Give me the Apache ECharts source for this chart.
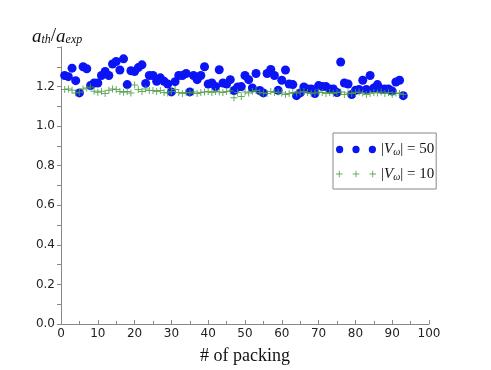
<!DOCTYPE html>
<html>
<head>
<meta charset="utf-8">
<script src="https://cdn.jsdelivr.net/npm/echarts@6/dist/echarts.min.js"></script>
<style>
  html, body { margin: 0; padding: 0; background: #fff; }
  #chart { width: 491px; height: 370px; }
</style>
</head>
<body>
<div id="chart"></div>
<script>
// packing index
const packing = [
  1, 2, 3, 4, 5, 6, 7, 8, 9, 10, 11, 12, 13, 14, 15, 16, 17, 18, 19, 20,
  21, 22, 23, 24, 25, 26, 27, 28, 29, 30, 31, 32, 33, 34, 35, 36, 37, 38, 39, 40,
  41, 42, 43, 44, 45, 46, 47, 48, 49, 50, 51, 52, 53, 54, 55, 56, 57, 58, 59, 60,
  61, 62, 63, 64, 65, 66, 67, 68, 69, 70, 71, 72, 73, 74, 75, 76, 77, 78, 79, 80,
  81, 82, 83, 84, 85, 86, 87, 88, 89, 90, 91, 92, 93
]

// |V_w| = 50
const ratio50 = [
  1.256, 1.25, 1.293, 1.23, 1.168, 1.30, 1.29, 1.205, 1.218, 1.218,
  1.256, 1.276, 1.256, 1.314, 1.327, 1.284, 1.34, 1.21, 1.28, 1.276,
  1.296, 1.31, 1.216, 1.256, 1.256, 1.227, 1.244, 1.227, 1.213, 1.173,
  1.225, 1.256, 1.256, 1.266, 1.173, 1.256, 1.235, 1.256, 1.30, 1.213,
  1.218, 1.20, 1.285, 1.218, 1.213, 1.235, 1.18, 1.198, 1.20, 1.256,
  1.235, 1.193, 1.266, 1.18, 1.168, 1.266, 1.286, 1.256, 1.181, 1.232,
  1.284, 1.213, 1.21, 1.154, 1.168, 1.198, 1.188, 1.188, 1.165, 1.205,
  1.20, 1.20, 1.188, 1.188, 1.17, 1.324, 1.218, 1.213, 1.16, 1.181,
  1.185, 1.232, 1.185, 1.256, 1.193, 1.21, 1.188, 1.188, 1.188, 1.177,
  1.223, 1.232, 1.154
]

// |V_w| = 10
const ratio10 = [
  1.185, 1.188, 1.181, 1.168, 1.171, 1.188, 1.193, 1.198, 1.176, 1.171,
  1.176, 1.165, 1.181, 1.188, 1.185, 1.175, 1.171, 1.175, 1.168, 1.208,
  1.185, 1.175, 1.188, 1.18, 1.18, 1.175, 1.18, 1.17, 1.168, 1.175,
  1.185, 1.17, 1.165, 1.17, 1.168, 1.172, 1.165, 1.17, 1.172, 1.175,
  1.17, 1.175, 1.172, 1.17, 1.175, 1.178, 1.143, 1.17, 1.15, 1.172,
  1.168, 1.175, 1.18, 1.17, 1.168, 1.165, 1.175, 1.17, 1.172, 1.168,
  1.16, 1.165, 1.17, 1.168, 1.172, 1.175, 1.17, 1.165, 1.168, 1.172,
  1.17, 1.165, 1.17, 1.165, 1.17, 1.172, 1.16, 1.168, 1.165, 1.17,
  1.172, 1.168, 1.16, 1.165, 1.17, 1.168, 1.172, 1.165, 1.17, 1.16,
  1.168, 1.165, 1.16
]

const blue = '#0a14f5'
const green = '#4a9e44'
const serif = 'Liberation Serif'
const plus = 'path://M3,0h1v3h3v1h-3v3h-1v-3h-3v-1h3z'
const dots3 = 'path://M0,4a4,4 0 1,0 8,0a4,4 0 1,0 -8,0z M18,4a4,4 0 1,0 8,0a4,4 0 1,0 -8,0z M36,4a4,4 0 1,0 8,0a4,4 0 1,0 -8,0z'
const plus3 = 'path://M3,1h1v3h3v1h-3v3h-1v-3h-3v-1h3z M21,1h1v3h3v1h-3v3h-1v-3h-3v-1h3z M39,1h1v3h3v1h-3v3h-1v-3h-3v-1h3z'

const mathRich = {
  i: { fontFamily: serif, fontStyle: 'italic', fontWeight: 'normal', fontSize: 19, color: '#111' },
  n: { fontFamily: serif, fontWeight: 'normal', fontSize: 19, color: '#111' },
  s: { fontFamily: serif, fontStyle: 'italic', fontWeight: 'normal', fontSize: 12, color: '#111', verticalAlign: 'bottom', padding: [7, 0, 0, 0] },
  l: { fontFamily: serif, fontWeight: 'normal', fontSize: 15, color: '#111' },
  li: { fontFamily: serif, fontStyle: 'italic', fontWeight: 'normal', fontSize: 15, color: '#111' },
  ls: { fontFamily: serif, fontStyle: 'italic', fontWeight: 'normal', fontSize: 10, color: '#111', verticalAlign: 'bottom', padding: [6, 0, 0, 0] }
}

const chart = echarts.init(document.getElementById('chart'))
chart.setOption({
  animation: false,
  title: {
    text: '{i|a}{s|th}{n|/}{i|a}{s|exp}',
    left: 27,
    top: 22,
    textStyle: { fontWeight: 'normal', rich: mathRich }
  },
  legend: {
    orient: 'vertical',
    left: 333,
    top: 133,
    padding: [9, 2, 7, 3],
    itemGap: 9,
    itemWidth: 40,
    itemHeight: 8,
    borderColor: '#888',
    borderWidth: 1,
    backgroundColor: '#fff',
    data: [
      { name: 'V50', icon: dots3, itemStyle: { color: blue } },
      { name: 'V10', icon: plus3, itemStyle: { color: green } }
    ],
    formatter: name => name === 'V50'
      ? '{l||}{li|V}{ls|ω}{l|| = 50}'
      : '{l||}{li|V}{ls|ω}{l|| = 10}',
    textStyle: { rich: mathRich }
  },
  grid: { left: 61, right: 62, top: 47, bottom: 46 },
  xAxis: {
    type: 'value',
    min: 0,
    max: 100,
    interval: 10,
    name: '# of packing',
    nameLocation: 'middle',
    nameGap: 23,
    nameTextStyle: { fontFamily: serif, fontSize: 18, color: '#111' },
    axisLine: { lineStyle: { color: '#888' } },
    axisTick: { inside: true, length: 4, lineStyle: { color: '#888' } },
    minorTick: { show: true, splitNumber: 2, length: 3, lineStyle: { color: '#888' } },
    axisLabel: { fontFamily: 'DejaVu Sans', fontSize: 12, color: '#222', margin: 4 },
    splitLine: { show: false }
  },
  yAxis: {
    type: 'value',
    min: 0,
    max: 1.4,
    interval: 0.2,
    axisLine: { show: true, lineStyle: { color: '#888' } },
    axisTick: { show: true, length: 4, lineStyle: { color: '#888' } },
    minorTick: { show: true, splitNumber: 2, length: 4, lineStyle: { color: '#888' } },
    axisLabel: {
      fontFamily: 'DejaVu Sans', fontSize: 12, color: '#222', margin: 6,
      showMaxLabel: false,
      formatter: v => v.toFixed(1)
    },
    splitLine: { show: false }
  },
  series: [
    {
      name: 'V50',
      type: 'scatter',
      symbol: 'circle',
      symbolSize: 9,
      itemStyle: { color: blue, opacity: 1 },
      data: packing.map((p, i) => [p, ratio50[i]])
    },
    {
      name: 'V10',
      type: 'scatter',
      symbol: plus,
      symbolSize: 7,
      itemStyle: { color: green, opacity: 0.85 },
      data: packing.map((p, i) => [p, ratio10[i]])
    }
  ]
})
</script>
</body>
</html>
